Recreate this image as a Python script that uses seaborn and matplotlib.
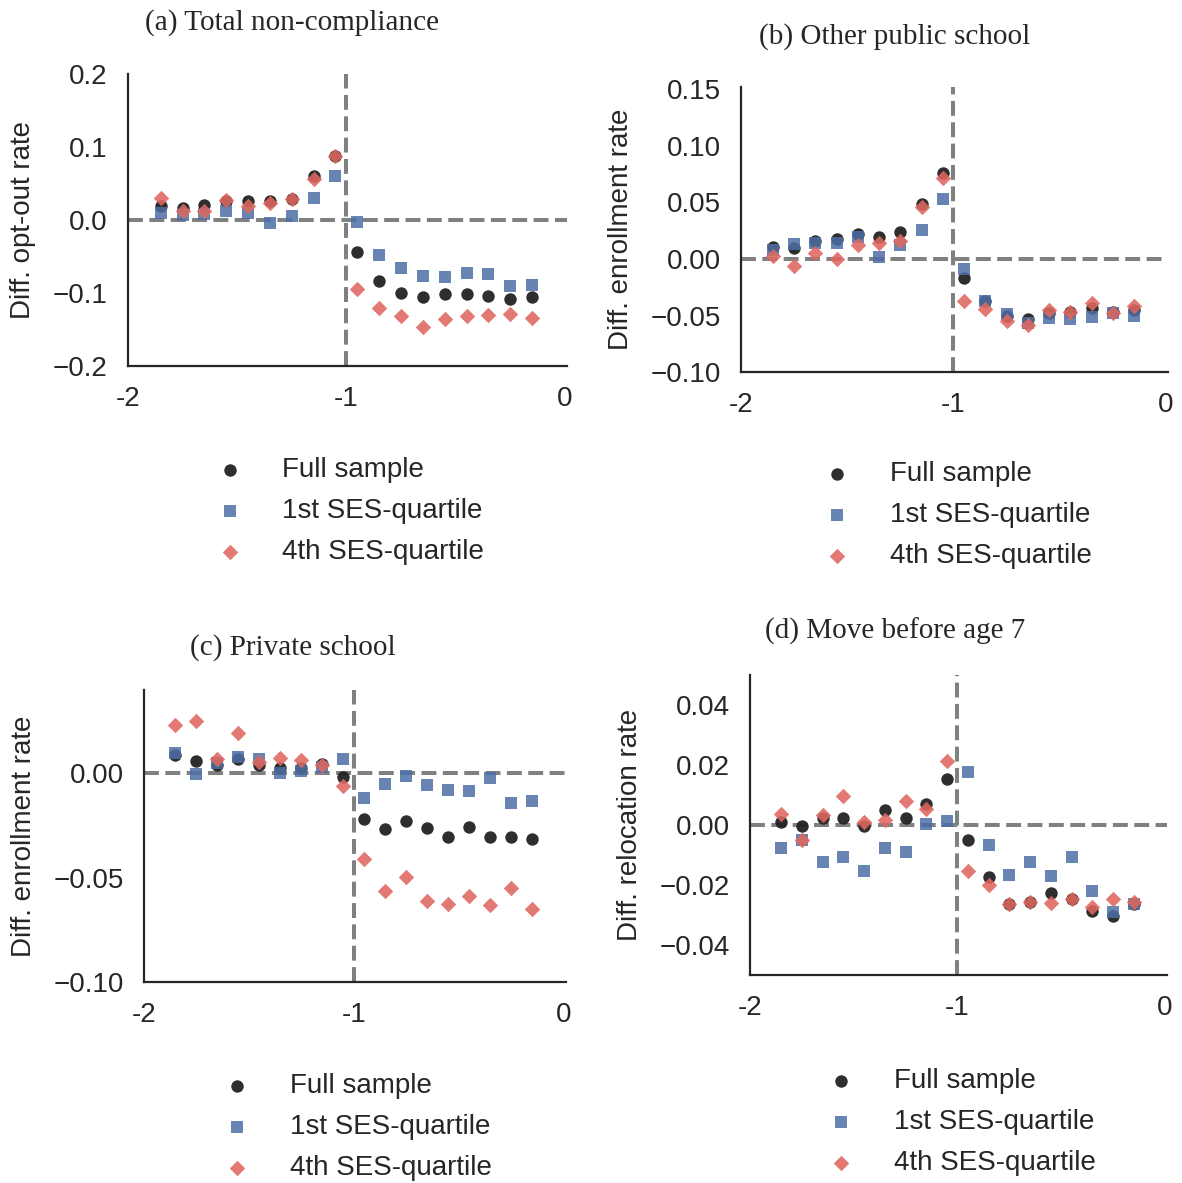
import numpy as np
import pandas as pd
import seaborn as sns
import matplotlib.pyplot as plt

# bins relative to cutoff
x_bins = [-1.85, -1.75, -1.65, -1.55, -1.45, -1.35, -1.25, -1.15, -1.05,
          -0.95, -0.85, -0.75, -0.65, -0.55, -0.45, -0.35, -0.25, -0.15]
groups = ['Full sample', '1st SES-quartile', '4th SES-quartile']

# (a) Total non-compliance
a_full = [0.019, 0.016, 0.021, 0.026, 0.026, 0.026, 0.029, 0.060, 0.088,
          -0.044, -0.083, -0.100, -0.106, -0.102, -0.101, -0.104, -0.108, -0.105]
a_q1 = [0.010, 0.007, 0.008, 0.012, 0.009, -0.004, 0.006, 0.030, 0.061,
        -0.003, -0.048, -0.066, -0.077, -0.078, -0.073, -0.074, -0.091, -0.089]
a_q4 = [0.030, 0.012, 0.012, 0.028, 0.019, 0.023, 0.029, 0.056, 0.088,
        -0.094, -0.121, -0.131, -0.146, -0.136, -0.132, -0.130, -0.129, -0.134]

# (b) Other public school
b_full = [0.011, 0.010, 0.016, 0.018, 0.022, 0.019, 0.024, 0.049, 0.076,
          -0.017, -0.037, -0.050, -0.053, -0.048, -0.047, -0.043, -0.047, -0.045]
b_q1 = [0.008, 0.013, 0.014, 0.014, 0.019, 0.002, 0.012, 0.026, 0.053,
        -0.009, -0.037, -0.049, -0.057, -0.052, -0.053, -0.051, -0.048, -0.050]
b_q4 = [0.003, -0.006, 0.005, 0.000, 0.012, 0.014, 0.016, 0.046, 0.072,
        -0.037, -0.044, -0.055, -0.058, -0.045, -0.047, -0.039, -0.048, -0.042]

# (c) Private school
c_full = [0.0085, 0.0056, 0.0037, 0.0069, 0.0038, 0.0024, 0.0024, 0.0045, -0.0019,
          -0.0222, -0.0270, -0.0228, -0.0263, -0.0308, -0.0260, -0.0306, -0.0306, -0.0317]
c_q1 = [0.0094, -0.0003, 0.0046, 0.0078, 0.0065, 0.0002, 0.0008, 0.0030, 0.0065,
        -0.0118, -0.0054, -0.0013, -0.0059, -0.0081, -0.0088, -0.0024, -0.0142, -0.0134]
c_q4 = [0.0231, 0.0249, 0.0065, 0.0190, 0.0053, 0.0072, 0.0062, 0.0037, -0.0062,
        -0.0410, -0.0566, -0.0496, -0.0614, -0.0625, -0.0589, -0.0630, -0.0552, -0.0652]

# (d) Move before age 7
d_full = [0.0009, -0.0004, 0.0023, 0.0022, -0.0004, 0.0049, 0.0022, 0.0070, 0.0153,
          -0.0049, -0.0173, -0.0264, -0.0256, -0.0226, -0.0248, -0.0287, -0.0303, -0.0264]
d_q1 = [-0.0076, -0.0051, -0.0122, -0.0106, -0.0152, -0.0075, -0.0090, 0.0002, 0.0015,
        0.0177, -0.0066, -0.0167, -0.0124, -0.0170, -0.0106, -0.0221, -0.0289, -0.0262]
d_q4 = [0.0038, -0.0049, 0.0033, 0.0096, 0.0009, 0.0018, 0.0079, 0.0053, 0.0212,
        -0.0153, -0.0201, -0.0264, -0.0256, -0.0259, -0.0248, -0.0272, -0.0248, -0.0256]

sns.set_style('white')
plt.rcParams['font.family'] = ['Liberation Sans', 'DejaVu Sans']

fig = plt.figure(figsize=(11.82, 11.83), dpi=100)

panels = [
    ('(a) Total non-compliance', 'Diff. opt-out rate', (a_full, a_q1, a_q4),
     [0.1083, 0.6906, 0.3714, 0.2468], (-0.2, 0.2), [0.2, 0.1, 0.0, -0.1, -0.2], '{:.1f}',
     (0.247, 0.981)),
    ('(b) Other public school', 'Diff. enrollment rate', (b_full, b_q1, b_q4),
     [0.6269, 0.6855, 0.3613, 0.2409], (-0.10, 0.152), [0.15, 0.10, 0.05, 0.00, -0.05, -0.10], '{:.2f}',
     (0.757, 0.969)),
    ('(c) Private school', 'Diff. enrollment rate', (c_full, c_q1, c_q4),
     [0.1218, 0.1699, 0.3570, 0.2468], (-0.10, 0.0397), [0.00, -0.05, -0.10], '{:.2f}',
     (0.248, 0.453)),
    ('(d) Move before age 7', 'Diff. relocation rate', (d_full, d_q1, d_q4),
     [0.6345, 0.1758, 0.3528, 0.2536], (-0.05, 0.05), [0.04, 0.02, 0.00, -0.02, -0.04], '{:.2f}',
     (0.757, 0.466)),
]

palette = {'Full sample': '#222222', '1st SES-quartile': '#4c6ea6', '4th SES-quartile': '#de6860'}
markers = {'Full sample': 'o', '1st SES-quartile': 's', '4th SES-quartile': 'D'}
sizes = {'Full sample': 80, '1st SES-quartile': 70, '4th SES-quartile': 62}
alphas = {'Full sample': 0.95, '1st SES-quartile': 0.85, '4th SES-quartile': 0.88}

for title, ylabel, series, rect, ylim, yticks, fmt, tpos in panels:
    ax = fig.add_axes(rect)
    for g, vals in zip(groups, series):
        df = pd.DataFrame({'x': x_bins, 'y': vals})
        sns.scatterplot(data=df, x='x', y='y', ax=ax, color=palette[g], marker=markers[g],
                        s=sizes[g], alpha=alphas[g], linewidth=0, label=g, zorder=3)
    ax.axhline(0, color='gray', linestyle='--', linewidth=2.9, zorder=2)
    ax.axvline(-1, color='gray', linestyle='--', linewidth=2.9, zorder=2)
    ax.set_xlim(-2, 0.01)
    ax.set_ylim(*ylim)
    ax.set_xticks([-2, -1, 0])
    ax.set_xticklabels(['-2', '-1', '0'])
    ax.set_yticks(yticks)
    ax.set_yticklabels([fmt.format(v).replace('-', '\u2212') for v in yticks])
    ax.tick_params(labelsize=20, pad=11)
    ax.set_xlabel('')
    ax.set_ylabel(ylabel, fontsize=20, labelpad=12)
    sns.despine(ax=ax)
    for sp in ['left', 'bottom']:
        ax.spines[sp].set_color('#262626')
        ax.spines[sp].set_linewidth(1.6)
    ax.legend(loc='upper center', bbox_to_anchor=(0.49, -0.226), frameon=False,
              fontsize=20, labelspacing=0.54, handletextpad=0.9, markerscale=1.0)
    fig.text(tpos[0], tpos[1], title, ha='center', va='center', fontsize=21,
             family=['Liberation Serif', 'DejaVu Serif'])

fig.savefig('out.png', dpi=100)
